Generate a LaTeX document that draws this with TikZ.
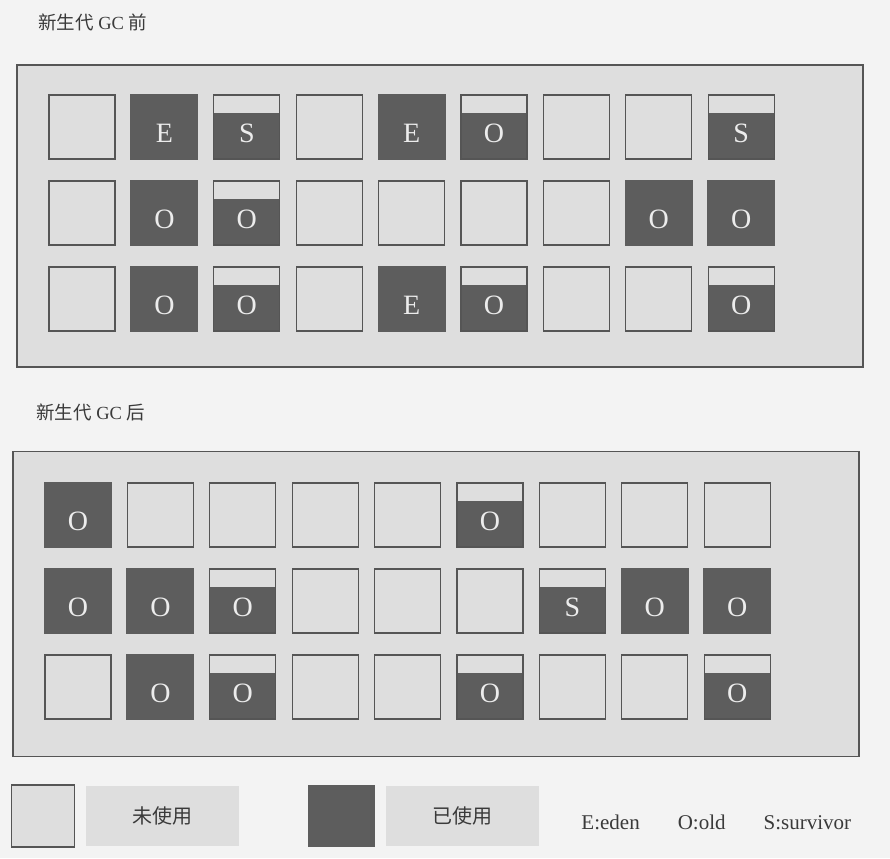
\documentclass[tikz,border=0pt]{standalone}
\usepackage{fontspec}
\setmainfont{Liberation Serif}
\newfontfamily\cjk{Noto Sans CJK SC}
\usepackage{xcolor}
\usepackage{tikz}
\usetikzlibrary{positioning}
\definecolor{pagebg}{HTML}{F3F3F3}
\definecolor{panelbg}{HTML}{DEDEDE}
\definecolor{usedfill}{HTML}{5D5D5D}
\definecolor{rimgray}{HTML}{555555}
\definecolor{inkgray}{HTML}{3A3A3A}
\definecolor{markink}{HTML}{ECECEC}
\newcommand{\colx}[2]{{#1+82.4*(#2-1)}}

\begin{document}
\begin{tikzpicture}[x=1pt,y=-1pt,inner sep=0pt,
    cell/.style={minimum width=66pt,minimum height=64pt,line width=1.3pt},
    cellmark/.style={text=markink,font=\fontsize{28}{28}\selectfont,yshift=-6pt},
    free/.style={cell,draw=rimgray,fill=panelbg},
    used/.style={cell,fill=usedfill,minimum width=68pt,minimum height=66pt,
        label={[cellmark]center:#1}},
    part/.style={cell,draw=rimgray,fill=usedfill,
        path picture={\fill[panelbg] (path picture bounding box.north west)
            rectangle ([yshift=-18pt]path picture bounding box.north east);},
        label={[cellmark]center:#1}},
    panel/.style={draw=rimgray,fill=panelbg,line width=1.2pt,minimum width=846pt},
    title/.style={text=inkgray,font=\fontsize{18.5}{18.5}\selectfont,anchor=west},
    keytag/.style={fill=panelbg,minimum width=153pt,minimum height=60pt,
        text=inkgray,font=\fontsize{20}{20}\cjk}
  ]
\fill[pagebg] (0,0) rectangle (890,858);
\useasboundingbox (0,0) rectangle (890,858);

\node[title] (titlebefore) at (38,22) {{\cjk 新生代} GC {\cjk 前}};
\node[panel,minimum height=302pt] (before) at (440,216) {};
\foreach \row [count=\r] in {
    {free/-,used/E,part/S,free/-,used/E,part/O,free/-,free/-,part/S},
    {free/-,used/O,part/O,free/-,free/-,free/-,free/-,used/O,used/O},
    {free/-,used/O,part/O,free/-,used/E,part/O,free/-,free/-,part/O}}
  \foreach \k/\t [count=\c] in \row
    \node[\k=\t] (a-\r-\c) at (\colx{82}{\c},{127+86*(\r-1)}) {};

\node[title] (titleafter) at (36,412) {{\cjk 新生代} GC {\cjk 后}};
\node[panel,minimum height=305pt] (after) at (436,604) {};
\foreach \row [count=\r] in {
    {used/O,free/-,free/-,free/-,free/-,part/O,free/-,free/-,free/-},
    {used/O,used/O,part/O,free/-,free/-,free/-,part/S,used/O,used/O},
    {free/-,used/O,part/O,free/-,free/-,part/O,free/-,free/-,part/O}}
  \foreach \k/\t [count=\c] in \row
    \node[\k=\t] (b-\r-\c) at (\colx{78}{\c},{515+86*(\r-1)}) {};

\node[free,minimum width=63pt,minimum height=62pt] (keyfree) at (43,816) {};
\node[keytag,right=11pt of keyfree] (keyfreetag) {未使用};
\node[cell,fill=usedfill,minimum width=67pt,minimum height=62pt,
    right=68pt of keyfreetag] (keyused) {};
\node[keytag,right=10pt of keyused] (keyusedtag) {已使用};
\node[text=inkgray,font=\fontsize{21}{21}\selectfont,right=42pt of keyusedtag,yshift=-6pt]
    (keyletters) {E:eden\hspace{38pt}O:old\hspace{38pt}S:survivor};
\end{tikzpicture}
\end{document}
